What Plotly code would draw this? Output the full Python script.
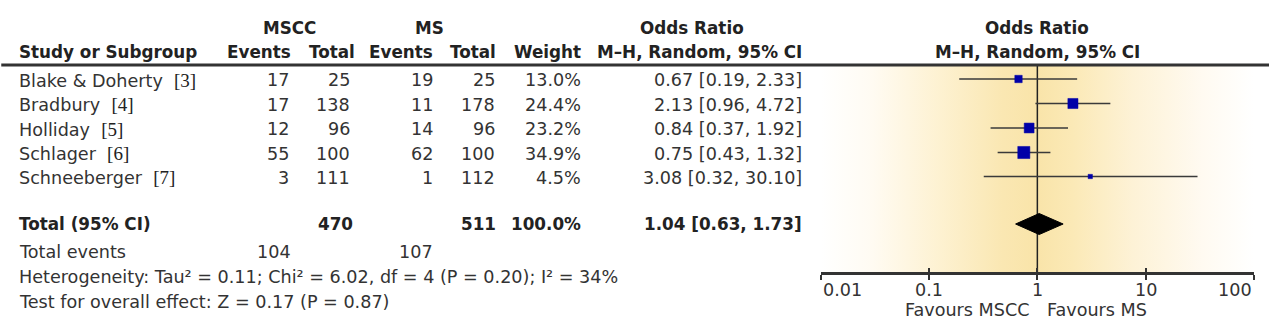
import numpy as np
import plotly.graph_objects as go

W, H = 1269, 331

# ---------------- data ----------------
studies = ["Blake & Doherty", "Bradbury", "Holliday", "Schlager", "Schneeberger"]
refs = ["[3]", "[4]", "[5]", "[6]", "[7]"]
mscc_events = [17, 17, 12, 55, 3]
mscc_total = [25, 138, 96, 100, 111]
ms_events = [19, 11, 14, 62, 1]
ms_total = [25, 178, 96, 100, 112]
weights = [13.0, 24.4, 23.2, 34.9, 4.5]
odds = [0.67, 2.13, 0.84, 0.75, 3.08]
ci_lo = [0.19, 0.96, 0.37, 0.43, 0.32]
ci_hi = [2.33, 4.72, 1.92, 1.32, 30.10]

total_mscc = 470
total_ms = 511
total_weight = 100.0
total_or, total_lo, total_hi = 1.04, 0.63, 1.73
total_events_mscc = 104
total_events_ms = 107
heterogeneity = "Heterogeneity: Tau² = 0.11; Chi² = 6.02, df = 4 (P = 0.20); I² = 34%"
overall = "Test for overall effect: Z = 0.17 (P = 0.87)"
tick_vals = [0.01, 0.1, 1, 10, 100]
tick_text = ["0.01", "0.1", "1", "10", "100"]

# ---------------- layout geometry (pixels from top / left) ----------------
row_y = [79, 103.5, 128, 152.5, 176.5]
y_head1, y_head2, y_rule = 28, 52, 65
y_total, y_tev, y_het, y_test = 224, 252, 277, 302
y_axis = 273
FONT = "DejaVu Sans, Verdana, sans-serif"
TXT = "#333333"
FS = 17.6
FSB = 16.8

fig = go.Figure()

# gradient background of forest panel
fig.add_trace(go.Scatter(
    x=[tick_vals[0], tick_vals[-1], tick_vals[-1], tick_vals[0], tick_vals[0]],
    y=[y_rule + 1, y_rule + 1, y_axis, y_axis, y_rule + 1],
    fill="toself", mode="lines", line=dict(width=0),
    fillgradient=dict(type="horizontal", colorscale=[
        [0.0, "#ffffff"], [0.12, "#fffbf2"], [0.28, "#fdf1d0"], [0.42, "#fae7b2"],
        [0.5, "#f9e4a9"], [0.58, "#fbe9b6"], [0.72, "#fdf2d6"], [0.88, "#fffaf1"],
        [1.0, "#ffffff"]]),
    hoverinfo="skip", showlegend=False, xaxis="x", yaxis="y"))

# line of no effect
fig.add_trace(go.Scatter(x=[1, 1], y=[y_rule, y_axis], mode="lines",
                         line=dict(color="#222222", width=1.5),
                         hoverinfo="skip", showlegend=False, xaxis="x", yaxis="y"))

# CI whiskers
wx, wy = [], []
for lo, hi, yy in zip(ci_lo, ci_hi, row_y):
    wx += [lo, hi, None]
    wy += [yy, yy, None]
fig.add_trace(go.Scatter(x=wx, y=wy, mode="lines", line=dict(color="#3a3a3a", width=1.3),
                         hoverinfo="skip", showlegend=False, xaxis="x", yaxis="y"))

# study squares
fig.add_trace(go.Scatter(
    x=odds, y=row_y, mode="markers",
    marker=dict(symbol="square", size=[2.05 * np.sqrt(w) for w in weights],
                color="#0000a8", opacity=1, line=dict(width=0.5, color="#0000a8")),
    hoverinfo="skip", showlegend=False, xaxis="x", yaxis="y"))

# pooled diamond
fig.add_trace(go.Scatter(
    x=[total_lo, total_or, total_hi, total_or, total_lo],
    y=[y_total, y_total - 10.5, y_total, y_total + 10.5, y_total],
    mode="lines", fill="toself", fillcolor="#000000", line=dict(color="#000000", width=1),
    hoverinfo="skip", showlegend=False, xaxis="x", yaxis="y"))

# invisible trace so the inward-tick overlay axis is drawn
fig.add_trace(go.Scatter(x=[1], y=[y_axis], mode="markers", marker=dict(opacity=0),
                         hoverinfo="skip", showlegend=False, xaxis="x3", yaxis="y"))

ann = []


def t(x, y, s, anchor="left", bold=False, size=None, color=TXT, xref="paper"):
    if size is None:
        size = FSB if bold else FS
    if bold:
        s = "<b>" + s + "</b>"
    if xref == "paper":
        x = x / W
    ann.append(dict(x=x, y=y, xref=xref, yref="y", text=s, showarrow=False,
                    xanchor=anchor, yanchor="middle",
                    font=dict(family=FONT, size=size, color=color)))


# headers
t(289, y_head1, "MSCC", "center", True, color="#222")
t(429, y_head1, "MS", "center", True, color="#222")
t(692, y_head1, "Odds Ratio", "center", True, color="#222")
t(1037, y_head1, "Odds Ratio", "center", True, color="#222")
t(17, y_head2, "Study or Subgroup", "left", True, color="#222")
t(293, y_head2, "Events", "right", True, color="#222")
t(357, y_head2, "Total", "right", True, color="#222")
t(435, y_head2, "Events", "right", True, color="#222")
t(498, y_head2, "Total", "right", True, color="#222")
t(583, y_head2, "Weight", "right", True, color="#222")
t(804, y_head2, "M–H, Random, 95% CI", "right", True, color="#222")
t(1037, y_head2, "M–H, Random, 95% CI", "center", True, color="#222")

# study rows
for i, yy in enumerate(row_y):
    yt = yy + 1
    name = (studies[i] + "\u00a0\u00a0<span style=\"font-family:'Liberation Serif', 'Times New Roman', serif;"
            "font-size:19px;fill:#222\">" + refs[i] + "</span>")
    t(17, yt, name)
    t(291, yt, str(mscc_events[i]), "right")
    t(352, yt, str(mscc_total[i]), "right")
    t(435, yt, str(ms_events[i]), "right")
    t(497, yt, str(ms_total[i]), "right")
    t(583, yt, f"{weights[i]:.1f}%", "right")
    t(804, yt, f"{odds[i]:.2f} [{ci_lo[i]:.2f}, {ci_hi[i]:.2f}]", "right")

# totals
t(17, y_total, "Total (95% CI)", "left", True, color="#222")
t(355, y_total, str(total_mscc), "right", True, color="#222")
t(498, y_total, str(total_ms), "right", True, color="#222")
t(583, y_total, f"{total_weight:.1f}%", "right", True, color="#222")
t(804, y_total, f"{total_or:.2f} [{total_lo:.2f}, {total_hi:.2f}]", "right", True, color="#222")
t(17, y_tev, "Total events")
t(293, y_tev, str(total_events_mscc), "right")
t(435, y_tev, str(total_events_ms), "right")
t(17, y_het, heterogeneity)
t(17, y_test, overall)

# axis tick labels (ends aligned inward like the reference)
anchors = ["left", "center", "center", "center", "right"]
for v, s, a in zip(tick_vals, tick_text, anchors):
    t(np.log10(v), 290, s, a, xref="x")
t(1032, 310, "Favours MSCC", "right")
t(1045, 310, "Favours MS", "left")

x0 = 820.7 / W
x1 = 1254.0 / W
pos = 1 - y_axis / H

fig.update_layout(
    width=W, height=H, margin=dict(l=0, r=0, t=0, b=0),
    paper_bgcolor="white", plot_bgcolor="rgba(0,0,0,0)", showlegend=False,
    xaxis=dict(type="log", range=[np.log10(tick_vals[0]), np.log10(tick_vals[-1])],
               domain=[x0, x1], anchor="free", position=pos,
               showline=True, linecolor="#333333", linewidth=2.5,
               ticks="outside", ticklen=5, tickwidth=2, tickcolor="#333333",
               tickvals=tick_vals, showticklabels=False,
               showgrid=False, zeroline=False, fixedrange=True),
    xaxis3=dict(type="log", range=[np.log10(tick_vals[0]), np.log10(tick_vals[-1])],
                domain=[x0, x1], anchor="free", position=pos, overlaying="x",
                showline=False, ticks="inside", ticklen=5, tickwidth=2, tickcolor="#333333",
                tickvals=tick_vals, showticklabels=False,
                showgrid=False, zeroline=False, fixedrange=True),
    yaxis=dict(range=[H, 0], domain=[0, 1], visible=False, fixedrange=True),
    annotations=ann,
    shapes=[dict(type="line", xref="paper", yref="y", x0=0.001, x1=1, y0=y_rule, y1=y_rule,
                 line=dict(color="#333333", width=3))],
)

fig.write_html("out.html")
